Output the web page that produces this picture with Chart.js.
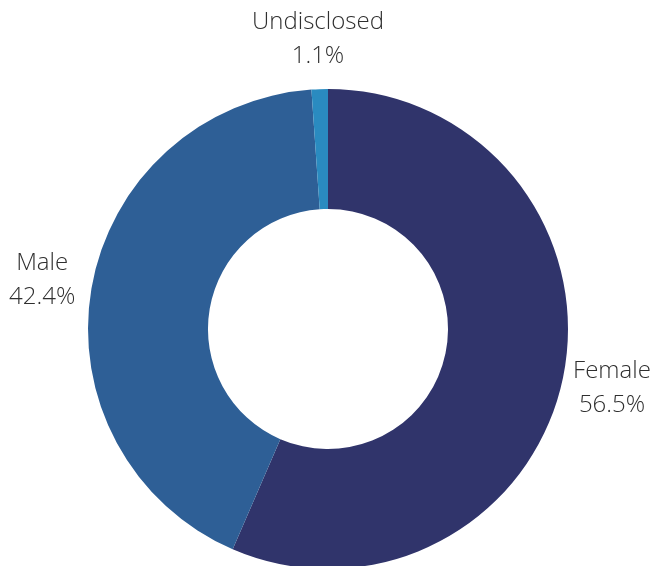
<!DOCTYPE html>
<html>
<head>
<meta charset="utf-8">
<script src="https://cdn.jsdelivr.net/npm/chart.js@4"></script>
<style>
  html, body { margin: 0; padding: 0; background: #ffffff; overflow: hidden; }
  #wrap { width: 655px; height: 600px; }
</style>
</head>
<body>
<div id="wrap"><canvas id="chart"></canvas></div>
<script>
// Gender split
const categories = ["Female", "Male", "Undisclosed"];
const shares = [56.5, 42.4, 1.1];
const shareLabels = ["56.5%", "42.4%", "1.1%"];
const colors = ["#30346b", "#2e5f96", "#2a8bc0"];

// Draw category name and share outside each slice
const outsideLabels = {
  id: "outsideLabels",
  afterDraw(chart) {
    const ctx = chart.ctx;
    const arcs = chart.getDatasetMeta(0).data;
    ctx.save();
    ctx.fillStyle = "#2f2f2f";
    ctx.font = "300 24px 'Open Sans', 'DejaVu Sans', sans-serif";
    ctx.textAlign = "center";
    ctx.textBaseline = "middle";
    arcs.forEach(function (arc, i) {
      const p = arc.getProps(["x", "y", "startAngle", "endAngle", "outerRadius"], true);
      const mid = (p.startAngle + p.endAngle) / 2;
      const dist = p.outerRadius + 50;
      const x = p.x + Math.cos(mid) * dist;
      const y = p.y + Math.sin(mid) * dist;
      ctx.fillText(categories[i], x, y - 17);
      ctx.fillText(shareLabels[i], x, y + 17);
    });
    ctx.restore();
  },
};

const chart = new Chart(document.getElementById("chart"), {
  type: "doughnut",
  data: {
    labels: categories,
    datasets: [
      {
        data: shares,
        backgroundColor: colors,
        borderWidth: 0,
      },
    ],
  },
  options: {
    responsive: true,
    maintainAspectRatio: false,
    animation: false,
    cutout: "50%",
    layout: {
      padding: { top: 89, bottom: 31, left: 88, right: 87 },
    },
    plugins: {
      legend: { display: false },
      tooltip: { enabled: false },
    },
  },
  plugins: [outsideLabels],
});
</script>
</body>
</html>
